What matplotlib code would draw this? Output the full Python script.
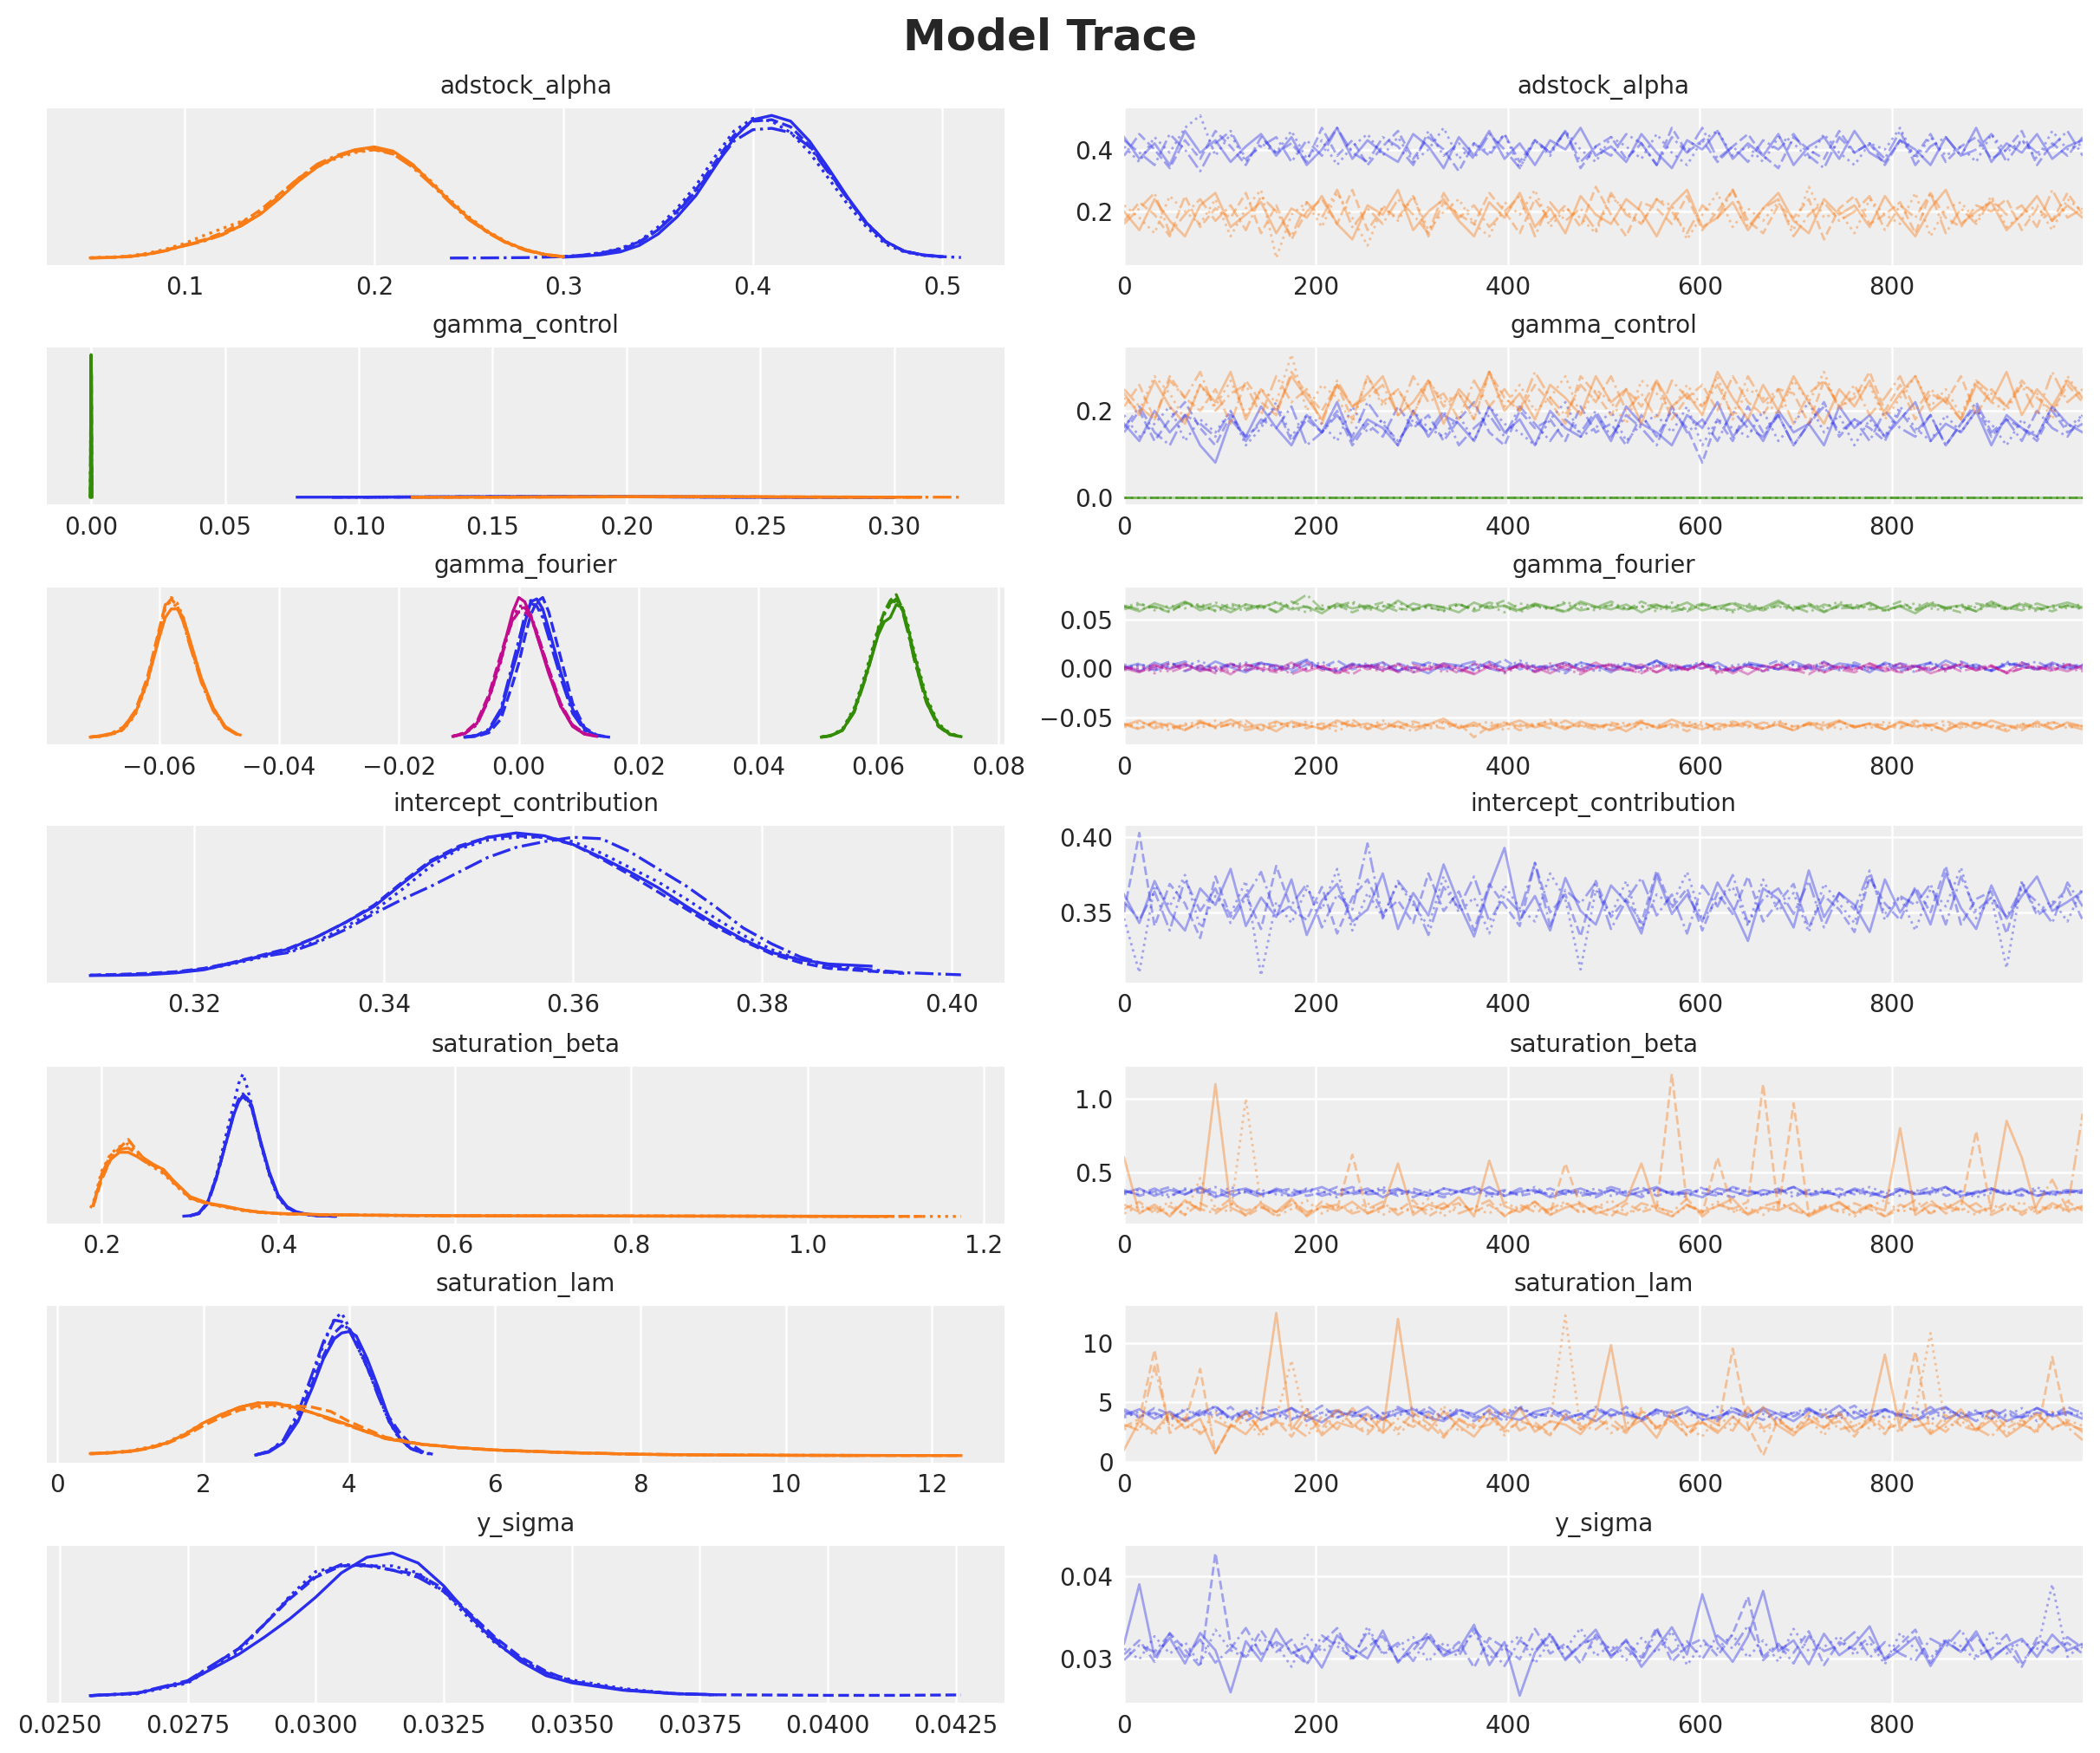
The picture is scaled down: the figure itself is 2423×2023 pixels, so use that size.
import numpy as np
import matplotlib.pyplot as plt

N = None
BLUE, ORANGE, GREEN, PINK = '#2a2eec', '#fa7c17', '#328c06', '#c10c90'
STYLES = ['-', '--', ':', '-.']
TEXT = '#262626'

# ---------------- posterior densities (x grid, one height list per chain) ----------------
adstock_x_orange = [0.05, 0.06, 0.07, 0.08, 0.09, 0.10, 0.11, 0.12, 0.13, 0.14,
                    0.15, 0.16, 0.17, 0.18, 0.19, 0.20, 0.21, 0.22, 0.23, 0.24,
                    0.25, 0.26, 0.27, 0.28, 0.29, 0.30]
adstock_kde_orange = [
    [0.3, 0.6, 1.2, 2.8, 5.5, 9, 12.5, 17, 23, 31, 42, 54, 64, 71, 76, 78, 75, 66, 53, 40, 28, 18.5, 11, 6, 2.8, 1.2],
    [0.3, 0.6, 1.3, 3, 5.8, 9.5, 13, 18, 25, 34, 45, 56, 65, 71, 75, 76, 73, 65, 53, 40, 28, 18, 11, 6, 2.6, 1.0],
    [0.4, 0.8, 1.6, 3.5, 6.5, 10.5, 16, 21, 26, 32, 43, 55, 64, 70, 74, 76, 74, 66, 54, 41, 29, 19, 11.5, 6, 2.8, 1.2],
    [0.2, 0.5, 1.1, 2.6, 5.3, 8.8, 12, 16.5, 23, 32, 44, 56, 66, 72, 76, 77, 73, 64, 52, 39, 27, 18, 10.5, 5.5, 2.5, 1.1],
]
adstock_x_blue = [0.24, 0.26, 0.28, 0.30, 0.31, 0.32, 0.33, 0.34, 0.35, 0.36,
                  0.37, 0.38, 0.39, 0.40, 0.41, 0.42, 0.43, 0.44, 0.45, 0.46,
                  0.47, 0.48, 0.49, 0.50, 0.51]
adstock_kde_blue = [
    [N, N, N, 0.8, 1.5, 2.5, 4.5, 9, 17, 29, 44, 64, 84, 97, 100, 96, 82, 63, 43, 25, 12, 5, 2.4, 1.2, N],
    [N, N, N, 1.0, 2, 3.5, 6, 11, 20, 33, 48, 67, 86, 96, 97, 92, 79, 61, 42, 24, 11.5, 5, 2.3, 1.0, N],
    [N, N, N, 1.2, 2.2, 4, 7, 12, 22, 35, 51, 71, 89, 98, 96, 88, 74, 56, 38, 22, 10, 4.5, 2, 0.9, N],
    [0.2, 0.3, 0.5, 1.2, 2.2, 3.8, 6.5, 11.5, 20, 32, 47, 65, 82, 90, 91, 88, 78, 60, 42, 25, 12, 5, 2.2, 1.2, 0.6],
]

control_x_blue = [0.077, 0.09, 0.10, 0.12, 0.15, 0.18, 0.21, 0.24, 0.27, 0.30]
control_kde_blue = [
    [0.01, 0.03, 0.05, 0.15, 0.3, 0.35, 0.25, 0.1, 0.03, 0.01],
    [N, 0.02, 0.04, 0.14, 0.3, 0.36, 0.24, 0.1, 0.03, 0.01],
    [N, N, 0.05, 0.15, 0.31, 0.34, 0.25, 0.11, 0.03, N],
    [N, 0.02, 0.05, 0.14, 0.29, 0.35, 0.26, 0.1, 0.04, 0.01],
]
control_x_orange = [0.12, 0.15, 0.18, 0.21, 0.24, 0.27, 0.30, 0.31, 0.325]
control_kde_orange = [
    [0.01, 0.06, 0.2, 0.32, 0.28, 0.13, 0.04, 0.02, N],
    [0.01, 0.05, 0.19, 0.31, 0.29, 0.14, 0.05, 0.02, N],
    [N, 0.06, 0.2, 0.33, 0.27, 0.12, 0.04, 0.02, N],
    [0.01, 0.06, 0.21, 0.31, 0.28, 0.13, 0.05, 0.03, 0.01],
]
control_x_green = [-0.0003, -0.0002, -0.0001, 0.0, 0.0001, 0.0002, 0.0003]
control_kde_green = [
    [0, 25, 85, 100, 85, 25, 0],
    [0, 24, 83, 98, 84, 26, 0],
    [0, 26, 86, 99, 83, 24, 0],
    [0, 23, 82, 97, 86, 25, 0],
]

fourier_x_blue = [-0.009, -0.007, -0.005, -0.003, -0.001, 0.000, 0.001, 0.002,
                  0.003, 0.004, 0.005, 0.007, 0.009, 0.011, 0.013, 0.015]
fourier_kde_blue = [
    [0.5, 1.5, 5, 18, 48, 62, 80, 95, 97, 90, 76, 46, 20, 6, 1.5, 0.5],
    [0.4, 1, 3.5, 13, 38, 52, 70, 86, 95, 98, 88, 56, 24, 7, 2, 0.5],
    [0.5, 1.6, 5.5, 19, 50, 66, 84, 96, 95, 86, 72, 43, 18, 5.5, 1.4, N],
    [0.6, 1.8, 6, 20, 52, 68, 85, 94, 92, 84, 70, 42, 17, 5, 1.2, N],
]
fourier_x_orange = [-0.0715, -0.070, -0.068, -0.066, -0.064, -0.062, -0.060, -0.059, -0.058,
                    -0.057, -0.056, -0.055, -0.053, -0.051, -0.049, -0.047, -0.0465]
fourier_kde_orange = [
    [0.5, 1, 2.5, 6, 17, 39, 70, 84, 90, 90, 84, 70, 42, 21, 8, 2.5, 2],
    [0.5, 1.2, 3, 7, 19, 42, 76, 92, 97, 92, 82, 67, 40, 20, 7, 2.5, N],
    [0.4, 0.8, 2.2, 5.5, 16, 38, 72, 90, 98, 94, 84, 68, 41, 21, 7.5, 2.4, 2],
    [0.6, 1.3, 3, 7.5, 18, 40, 74, 93, 95, 91, 81, 66, 39, 19, 7, 2.2, N],
]
fourier_x_green = [0.0505, 0.052, 0.054, 0.056, 0.058, 0.059, 0.060, 0.061, 0.062,
                   0.063, 0.064, 0.065, 0.066, 0.068, 0.070, 0.072, 0.0738]
fourier_kde_green = [
    [0.5, 1.5, 5, 19, 44, 58, 72, 81, 84, 93, 91, 76, 58, 27, 9, 2.5, 0.8],
    [0.5, 1.5, 5.5, 20, 45, 60, 76, 88, 96, 100, 90, 74, 55, 25, 8, 2, N],
    [0.6, 1.6, 6, 21, 47, 62, 77, 87, 93, 96, 92, 78, 60, 29, 10, 3, 1],
    [0.4, 1.3, 5, 18, 43, 58, 74, 86, 94, 97, 89, 73, 55, 25, 8.5, 2.2, 0.7],
]
fourier_x_pink = [-0.011, -0.009, -0.007, -0.005, -0.003, -0.002, -0.001, 0.000,
                  0.001, 0.002, 0.003, 0.005, 0.007, 0.009, 0.011, 0.013]
fourier_kde_pink = [
    [1, 3, 10, 28, 55, 72, 88, 98, 95, 85, 72, 45, 22, 8, 2.5, 1],
    [1, 3.5, 11, 30, 58, 72, 82, 88, 88, 84, 74, 48, 24, 9, 3, 1],
    [1.2, 3.5, 10, 27, 53, 70, 84, 92, 92, 86, 74, 47, 23, 8.5, 2.5, N],
    [0.8, 3, 9, 27, 54, 70, 83, 90, 91, 85, 72, 46, 22, 8, 2.5, N],
]

intercept_x = [0.309, 0.312, 0.315, 0.318, 0.321, 0.324, 0.327, 0.330, 0.333, 0.336,
               0.339, 0.342, 0.345, 0.348, 0.351, 0.354, 0.357, 0.360, 0.363, 0.366,
               0.369, 0.372, 0.375, 0.378, 0.381, 0.384, 0.387, 0.3915, 0.395, 0.401]
intercept_kde = [
    [0, 0.2, 0.6, 1.8, 4, 8.5, 13.5, 18.5, 27, 37, 48, 64, 79, 89, 96, 99, 97, 91, 82, 72,
     61, 48, 36, 25, 16, 11, 8, 6.5, N, N],
    [0.3, 0.8, 1.5, 2.6, 5, 9, 14, 19, 27, 37, 49, 65, 80, 90, 96, 97, 96, 91, 81, 70,
     58, 46, 34, 24, 15, 9, 5, 3, 1.5, N],
    [0.2, 0.5, 1.2, 2.2, 4.2, 8, 12.5, 17, 24, 34, 45, 60, 76, 88, 94, 96, 96, 93, 85, 75,
     65, 53, 40, 28, 18, 11, 6, 3, 1.5, N],
    [N, 0.4, 1, 2.2, 4.5, 9, 13, 16, 23, 32, 43, 53, 62, 72, 82, 89, 93, 96, 95, 86,
     74, 62, 48, 33, 22, 13, 7, 4, 2, 0.5],
]

beta_x_blue = [0.293, 0.30, 0.31, 0.32, 0.33, 0.34, 0.35, 0.355, 0.36, 0.365,
               0.37, 0.38, 0.39, 0.40, 0.41, 0.42, 0.43, 0.44, 0.45, 0.465]
beta_kde_blue = [
    [0.3, 0.6, 2.5, 10, 28, 50, 72, 80, 85, 83, 78, 53, 31, 15, 7, 3.5, 2, 1, 0.5, 0.2],
    [N, 0.5, 2, 9, 27, 51, 74, 82, 86, 82, 76, 52, 30, 14, 6.5, 3, 1.8, 0.9, 0.4, 0.2],
    [N, 0.6, 2.3, 10, 29, 55, 80, 93, 100, 90, 78, 51, 29, 13, 6, 3, 1.5, 0.8, 0.4, N],
    [N, 0.5, 2.2, 9.5, 27, 50, 73, 81, 84, 81, 76, 52, 30, 14, 6.5, 3, 1.6, 0.8, 0.4, N],
]
beta_x_orange = [0.187, 0.19, 0.20, 0.21, 0.22, 0.23, 0.24, 0.25, 0.26, 0.27,
                 0.28, 0.30, 0.32, 0.34, 0.36, 0.38, 0.40, 0.45, 0.50, 0.60,
                 0.70, 0.80, 0.90, 1.00, 1.09, 1.13, 1.174]
beta_kde_orange = [
    [N, 8, 28, 40, 45, 45, 42, 38, 36, 33, 26, 14, 9.5, 7.3, 4.7, 3, 2.2, 1.3, 1, 0.6,
     0.45, 0.35, 0.3, 0.2, 0.15, N, N],
    [N, 7, 26, 40, 48, 54, 46, 39, 35, 31, 25, 13, 9, 6.8, 4.5, 3, 2.1, 1.3, 0.9, 0.6,
     0.45, 0.35, 0.3, 0.2, 0.15, 0.1, N],
    [6, 9, 32, 44, 49, 51, 45, 38, 34, 30, 24, 12.5, 9, 6.5, 4.2, 2.8, 2, 1.2, 0.9, 0.6,
     0.45, 0.35, 0.3, 0.2, 0.15, 0.1, 0.1],
    [N, 7, 30, 43, 47, 48, 44, 40, 36, 32, 25, 13, 9, 7, 4.5, 3, 2.1, 1.3, 1, 0.6,
     0.45, 0.35, 0.3, 0.2, 0.15, N, N],
]

lam_x_blue = [2.72, 2.9, 3.1, 3.3, 3.5, 3.65, 3.8, 3.9, 4.0, 4.1,
              4.25, 4.4, 4.55, 4.7, 4.85, 5.0, 5.15]
lam_kde_blue = [
    [0.5, 2.5, 9, 24, 48, 68, 82, 86, 87, 84, 68, 48, 26, 12, 5, 2.5, N],
    [0.6, 3, 10, 26, 51, 70, 86, 91, 89, 82, 63, 44, 27, 16, 8, 3, 1],
    [0.6, 3, 10, 27, 55, 78, 96, 100, 90, 78, 62, 43, 24, 11, 5, 2, 1],
    [0.5, 3, 11, 30, 58, 80, 95, 94, 88, 78, 62, 42, 24, 12, 5, 2, N],
]
lam_x_orange = [0.45, 0.75, 1.0, 1.25, 1.5, 1.75, 2.0, 2.25, 2.5, 2.75,
                3.0, 3.25, 3.5, 3.75, 4.0, 4.5, 5.0, 5.5, 6.0, 7.0,
                8.0, 9.0, 10.0, 11.0, 12.4]
lam_kde_orange = [
    [1.5, 2.2, 3.2, 5.5, 9, 15, 23, 29, 34, 37, 36.5, 34, 30, 26, 21.5, 12, 8, 5.7, 4, 2.2,
     1, 0.5, 0.3, 0.2, 0.1],
    [1.3, 2, 3, 5, 8.5, 14, 21, 27, 32, 35, 36, 35, 34, 31, 24, 13, 8, 5.5, 4, 2.1,
     1, 0.5, 0.3, 0.2, 0.1],
    [1.6, 2.4, 3.5, 6, 9.5, 15.5, 23, 28, 32, 34, 35, 33, 30, 26, 21, 12.5, 8, 5.7, 4, 2.2,
     1, 0.5, 0.3, 0.2, N],
    [1.4, 2.1, 3, 5.3, 9, 15, 22.5, 29, 34, 37, 37, 34, 30, 25, 21, 12, 8, 5.6, 4, 2.2,
     1, 0.5, 0.3, 0.2, N],
]

sigma_x = [0.0256, 0.0265, 0.0275, 0.0285, 0.0290, 0.0295, 0.0300, 0.0305, 0.0310, 0.0315,
           0.0320, 0.0325, 0.0330, 0.0335, 0.0340, 0.0345, 0.0350, 0.0360, 0.0370, 0.0378,
           0.0390, 0.0400, 0.0413, 0.0426]
sigma_kde = [
    [0, 1.6, 9.6, 29, 41, 54, 69, 86, 97, 100, 93, 77, 56, 38, 24, 14, 9, 3.8, 1.3, 0.6, N, N, N, N],
    [0, 1.6, 10, 33, 50, 68, 83, 91, 92, 88, 85, 75, 58, 41, 27, 17, 10, 4, 1.5, 0.6, 0.4, 0.2, 0.2, 0.5],
    [0, 1.2, 8.8, 31, 50, 70, 87, 91, 91, 91, 86, 73, 54, 37, 25, 16, 11, 5, 1.5, 0.6, N, N, N, N],
    [0, 1.8, 10.5, 33, 50, 69, 84, 92, 91, 88, 83, 73, 57, 40, 26, 16, 10, 4.2, 1.4, 0.5, N, N, N, N],
]

# ---------------- traces (thinned draws, one list per chain) ----------------
adstock_trace_blue = [  # x0.01
    [44, 37, 42, 35, 46, 39, 43, 36, 41, 45, 38, 44, 35, 40, 47, 37,
     43, 39, 36, 45, 41, 34, 44, 38, 46, 37, 42, 35, 43, 40, 47, 38,
     41, 36, 45, 39, 34, 43, 40, 46, 37, 42, 38, 45, 35, 41, 44, 37,
     46, 39, 36, 43, 40, 35, 44, 38, 47, 36, 42, 39, 45, 37, 41, 43],
    [38, 45, 40, 34, 43, 37, 46, 41, 35, 44, 39, 42, 36, 47, 38, 43,
     35, 41, 46, 37, 44, 40, 33, 42, 38, 45, 36, 43, 39, 46, 34, 41,
     44, 37, 42, 35, 47, 39, 43, 36, 41, 45, 38, 34, 44, 40, 37, 46,
     39, 42, 35, 43, 38, 45, 36, 41, 44, 37, 40, 46, 35, 42, 38, 44],
    [41, 36, 44, 39, 47, 51, 38, 45, 36, 42, 39, 46, 37, 43, 35, 41,
     45, 38, 44, 36, 40, 47, 37, 42, 39, 45, 34, 43, 38, 46, 40, 36,
     44, 41, 37, 45, 39, 35, 43, 46, 38, 41, 36, 44, 42, 37, 45, 39,
     35, 42, 40, 47, 37, 44, 38, 41, 36, 45, 39, 43, 37, 46, 40, 42],
    [43, 39, 35, 45, 40, 33, 42, 46, 37, 41, 44, 36, 43, 38, 47, 39,
     36, 44, 41, 35, 46, 38, 42, 37, 45, 40, 34, 43, 39, 46, 36, 41,
     38, 45, 42, 35, 44, 39, 47, 37, 41, 36, 43, 40, 45, 38, 34, 44,
     39, 42, 37, 46, 35, 41, 44, 38, 40, 45, 36, 43, 39, 41, 46, 38],
]
adstock_trace_orange = [  # x0.01
    [20, 14, 24, 17, 12, 22, 26, 15, 19, 23, 13, 21, 18, 25, 16, 11,
     22, 19, 27, 14, 20, 24, 17, 12, 23, 18, 26, 15, 21, 13, 25, 19,
     16, 24, 20, 12, 22, 27, 15, 18, 23, 14, 21, 26, 17, 13, 24, 19,
     22, 15, 25, 18, 12, 21, 27, 16, 20, 23, 14, 19, 25, 17, 22, 18],
    [17, 23, 19, 12, 25, 15, 21, 18, 26, 13, 22, 11, 20, 24, 16, 27,
     14, 21, 18, 25, 12, 23, 19, 16, 26, 20, 13, 24, 17, 22, 15, 28,
     19, 12, 23, 21, 16, 25, 14, 20, 27, 17, 13, 22, 18, 24, 11, 21,
     25, 16, 19, 23, 13, 26, 18, 15, 22, 20, 24, 14, 21, 17, 26, 19],
    [22, 18, 13, 25, 20, 16, 24, 12, 21, 27, 5, 19, 23, 15, 26, 18,
     9, 22, 17, 25, 14, 20, 24, 16, 12, 23, 19, 27, 15, 21, 18, 13,
     25, 20, 16, 24, 22, 11, 19, 26, 15, 21, 17, 23, 14, 28, 18, 20,
     13, 24, 19, 16, 26, 12, 21, 23, 17, 25, 15, 19, 22, 14, 24, 20],
    [16, 21, 26, 13, 19, 24, 17, 22, 14, 25, 20, 12, 23, 18, 27, 15,
     21, 16, 24, 19, 13, 26, 18, 22, 15, 20, 25, 12, 23, 17, 21, 14,
     26, 19, 16, 24, 20, 13, 22, 18, 27, 15, 21, 24, 12, 19, 23, 17,
     20, 25, 14, 22, 18, 26, 13, 21, 16, 24, 19, 22, 15, 27, 18, 21],
]

control_trace_blue = [  # x0.01
    [17, 13, 20, 15, 19, 12, 8, 18, 14, 21, 16, 12, 19, 15, 22, 13,
     18, 16, 12, 20, 14, 19, 17, 13, 21, 15, 18, 12, 20, 16, 14, 19,
     13, 21, 17, 15, 12, 19, 16, 22, 14, 18, 13, 20, 15, 17, 12, 21,
     16, 19, 14, 18, 22, 13, 17, 15, 20, 12, 19, 16, 14, 21, 17, 15],
    [15, 20, 13, 18, 22, 16, 12, 19, 14, 17, 21, 13, 18, 15, 20, 12,
     17, 14, 21, 16, 19, 13, 18, 22, 15, 12, 20, 16, 18, 13, 21, 15,
     17, 12, 19, 14, 20, 16, 8, 18, 13, 21, 15, 19, 12, 17, 22, 14,
     18, 16, 13, 20, 15, 19, 12, 17, 21, 14, 18, 16, 13, 20, 15, 17],
    [19, 14, 17, 21, 13, 18, 15, 20, 12, 16, 22, 14, 19, 17, 13, 21,
     15, 18, 12, 20, 16, 14, 19, 13, 21, 17, 15, 12, 18, 22, 14, 16,
     20, 13, 17, 19, 15, 21, 12, 18, 16, 14, 20, 13, 17, 22, 15, 19,
     12, 18, 14, 21, 16, 13, 19, 15, 20, 17, 12, 18, 14, 21, 16, 19],
    [16, 21, 15, 12, 19, 17, 14, 20, 13, 18, 16, 21, 12, 15, 19, 14,
     22, 17, 13, 18, 15, 20, 12, 16, 19, 14, 21, 17, 13, 18, 15, 20,
     14, 19, 16, 12, 21, 15, 18, 13, 20, 16, 14, 19, 12, 17, 21, 15,
     18, 13, 20, 16, 14, 19, 12, 17, 22, 15, 18, 13, 20, 16, 14, 19],
]
control_trace_orange = [  # x0.01
    [24, 19, 27, 21, 17, 26, 22, 29, 18, 25, 20, 28, 23, 18, 26, 21,
     24, 28, 19, 22, 27, 17, 25, 21, 29, 20, 24, 18, 26, 23, 19, 28,
     22, 25, 17, 27, 21, 24, 19, 29, 23, 18, 26, 20, 28, 22, 17, 25,
     21, 27, 19, 24, 28, 20, 23, 18, 26, 22, 29, 19, 25, 21, 27, 23],
    [21, 26, 18, 28, 23, 20, 25, 17, 27, 22, 19, 29, 24, 20, 26, 18,
     28, 22, 25, 19, 27, 21, 24, 18, 29, 23, 20, 26, 22, 17, 28, 24,
     19, 25, 21, 27, 18, 23, 26, 20, 28, 22, 19, 25, 24, 17, 27, 21,
     23, 29, 20, 26, 18, 24, 22, 28, 19, 25, 21, 27, 23, 20, 26, 22],
    [23, 20, 28, 24, 18, 26, 21, 27, 19, 25, 22, 33, 20, 26, 23, 17,
     28, 21, 25, 19, 27, 22, 24, 18, 29, 21, 26, 20, 23, 28, 19, 25,
     22, 17, 27, 24, 20, 26, 21, 28, 18, 25, 23, 19, 27, 22, 29, 20,
     24, 26, 18, 23, 28, 21, 25, 19, 27, 22, 20, 26, 24, 18, 28, 23],
    [25, 21, 18, 27, 23, 29, 20, 24, 26, 19, 28, 22, 25, 17, 27, 21,
     23, 26, 19, 28, 22, 24, 18, 27, 21, 25, 20, 29, 23, 19, 26, 22,
     28, 20, 24, 18, 27, 23, 21, 26, 19, 28, 22, 25, 17, 24, 27, 21,
     26, 19, 23, 28, 20, 25, 22, 18, 27, 24, 21, 26, 19, 29, 22, 25],
]
control_trace_green = [[0, 0, 0, 0, 0], [0, 0, 0, 0, 0], [0, 0, 0, 0, 0], [0, 0, 0, 0, 0]]

fourier_trace_blue = [  # x0.001
    [2, -3, 6, 0, 4, -2, 7, 1, -4, 5, 3, -1, 8, 0, -3, 4,
     2, 6, -2, 1, -5, 5, 3, -1, 7, 0, 4, -3, 2, 6, -1, 3,
     -4, 5, 1, 8, -2, 3, 0, 6, -3, 4, 2, -1, 7, 1, -2, 5,
     3, -4, 6, 0, 2, -2, 8, 1, 4, -3, 5, 2, -1, 6, 0, 3],
    [-1, 4, 1, 7, -3, 3, 0, 5, -2, 6, 2, -4, 4, 1, 8, -1,
     3, -2, 5, 0, 6, 2, -3, 4, 1, 9, -1, 3, 0, -5, 6, 2,
     4, -2, 1, 7, 3, -1, 5, 0, -3, 4, 2, 8, -2, 3, 1, -1,
     6, 0, 4, -3, 2, 5, -1, 7, 1, -2, 3, 6, 0, 4, -1, 2],
    [4, 0, -2, 5, 2, 8, -1, 3, 6, -3, 1, 4, 0, 7, -2, 3,
     5, -1, 2, -4, 6, 1, 3, -2, 4, 0, 8, 2, -1, 5, 3, -3,
     1, 6, -2, 4, 0, 2, 7, -1, 3, 5, -3, 1, 4, -2, 6, 0,
     2, -1, 5, 3, -4, 6, 1, 0, 4, -2, 7, 2, -1, 3, 5, 0],
    [1, 5, -2, 3, 7, 0, -3, 4, 2, 6, -1, 3, 9, 0, -2, 5,
     1, 4, -3, 6, 2, -1, 3, 7, 0, -4, 5, 1, 3, -2, 6, 2,
     -1, 4, 0, 8, -3, 2, 5, 1, -2, 6, 3, -1, 4, 0, 7, -2,
     3, 1, -3, 5, 2, 6, -1, 4, 0, -2, 5, 3, 7, -1, 2, 4],
]
fourier_trace_orange = [  # x0.001
    [-58, -53, -61, -56, -63, -55, -59, -52, -60, -57, -64, -54, -58, -61, -53, -59,
     -56, -62, -54, -60, -57, -51, -61, -55, -63, -58, -53, -60, -56, -62, -54, -59,
     -57, -64, -55, -60, -52, -58, -62, -56, -59, -54, -61, -57, -63, -55, -58, -53,
     -60, -56, -62, -54, -59, -57, -64, -55, -61, -53, -58, -60, -56, -62, -55, -59],
    [-56, -61, -54, -59, -62, -55, -60, -57, -53, -63, -58, -55, -61, -56, -59, -52,
     -62, -57, -60, -54, -58, -61, -56, -70, -59, -55, -63, -57, -54, -60, -58, -62,
     -55, -59, -53, -61, -57, -64, -56, -60, -54, -58, -62, -55, -59, -57, -63, -54,
     -60, -56, -58, -61, -53, -59, -62, -57, -55, -60, -58, -63, -54, -61, -57, -59],
    [-60, -55, -58, -63, -56, -61, -53, -59, -57, -62, -55, -60, -54, -58, -64, -56,
     -59, -53, -61, -57, -62, -55, -60, -58, -54, -63, -57, -59, -52, -61, -56, -60,
     -58, -55, -62, -57, -60, -54, -59, -63, -56, -58, -61, -53, -60, -57, -55, -62,
     -58, -61, -54, -59, -56, -63, -57, -60, -55, -58, -62, -56, -59, -54, -61, -57],
    [-57, -62, -55, -60, -58, -53, -61, -56, -63, -59, -54, -60, -57, -62, -55, -58,
     -61, -56, -59, -64, -57, -54, -60, -58, -62, -55, -59, -56, -61, -53, -60, -57,
     -63, -58, -55, -61, -56, -59, -54, -62, -57, -60, -55, -58, -63, -56, -61, -54,
     -59, -57, -62, -55, -60, -58, -53, -61, -56, -59, -64, -57, -60, -55, -58, -62],
]
fourier_trace_green = [  # x0.001
    [63, 58, 66, 61, 68, 59, 64, 57, 65, 62, 67, 60, 63, 56, 66, 61,
     64, 58, 69, 60, 65, 62, 57, 67, 61, 64, 59, 66, 62, 58, 68, 63,
     60, 65, 57, 64, 61, 67, 59, 63, 66, 58, 62, 69, 60, 64, 57, 65,
     61, 67, 59, 63, 56, 66, 62, 64, 58, 68, 61, 65, 60, 63, 67, 62],
    [60, 65, 62, 57, 67, 63, 59, 66, 61, 64, 58, 68, 62, 60, 65, 57,
     63, 67, 61, 59, 64, 62, 66, 58, 63, 69, 60, 65, 61, 57, 66, 62,
     64, 59, 68, 61, 63, 58, 65, 60, 67, 62, 59, 64, 61, 66, 58, 63,
     65, 60, 62, 68, 59, 64, 61, 57, 66, 63, 60, 67, 62, 58, 64, 61],
    [62, 67, 59, 64, 61, 66, 58, 63, 65, 60, 68, 62, 57, 64, 61, 66,
     59, 63, 67, 60, 62, 58, 65, 61, 64, 57, 66, 63, 60, 68, 62, 59,
     65, 61, 63, 58, 67, 60, 64, 62, 57, 66, 61, 63, 59, 65, 62, 68,
     60, 64, 58, 63, 66, 61, 59, 65, 62, 67, 60, 63, 58, 64, 61, 66],
    [64, 60, 63, 58, 66, 62, 67, 61, 59, 64, 57, 65, 75, 60, 63, 68,
     61, 64, 58, 66, 62, 59, 65, 60, 67, 63, 57, 64, 61, 66, 59, 62,
     68, 60, 63, 65, 58, 61, 66, 62, 59, 64, 60, 67, 63, 57, 65, 61,
     62, 66, 59, 64, 60, 68, 61, 63, 58, 65, 62, 59, 66, 61, 64, 60],
]
fourier_trace_pink = [  # x0.001
    [0, -4, 3, -1, 5, -3, 1, -6, 4, 0, -2, 6, -3, 2, -5, 1,
     3, -2, 4, -4, 0, 5, -1, -6, 2, -3, 4, 1, -5, 3, -1, 6,
     -2, 0, 4, -4, 2, -1, 5, -3, 1, -6, 3, 0, -2, 4, -4, 2,
     -1, 5, -3, 1, 3, -5, 0, 4, -2, 2, -4, 6, -1, 1, -3, 3],
    [2, -3, 0, 5, -2, 3, -5, 1, 4, -1, -4, 2, 6, -2, 0, -6,
     3, 1, -3, 4, -1, 2, -5, 5, 0, -2, 3, -4, 1, 6, -3, 0,
     4, -1, -5, 2, 3, -2, 5, -4, 0, 2, -3, 4, -1, -6, 3, 1,
     -2, 5, 0, -4, 2, -1, 4, -3, 1, 3, -5, 0, 2, -2, 4, -1],
    [-2, 3, -5, 1, 4, -1, 2, -4, 0, 6, -3, 1, -1, 4, -6, 2,
     0, -3, 5, -2, 3, -4, 1, -1, 6, -5, 2, 0, -2, 4, -3, 1,
     5, -1, -4, 3, 0, -2, 4, -6, 1, 2, -3, 5, -1, 0, -4, 3,
     1, -2, 4, -5, 2, 0, -3, 6, -1, 1, -4, 3, -2, 5, 0, -3],
    [1, -1, 4, -4, 2, 0, -3, 5, -2, 1, 3, -6, 0, 2, -3, 4,
     -1, 6, -4, 1, -2, 3, 0, -5, 4, -1, 2, -3, 5, 0, -6, 2,
     3, -2, 1, -4, 5, -1, 0, 3, -5, 2, -2, 4, -3, 1, 6, -1,
     -4, 2, 0, 5, -3, 1, -1, 4, -2, 3, -5, 0, 2, -3, 4, 1],
]

intercept_trace = [  # x0.001
    [362, 343, 371, 350, 338, 366, 355, 379, 341, 360, 347, 372, 335, 358, 369, 344,
     352, 376, 339, 363, 348, 382, 356, 334, 367, 393, 345, 361, 338, 373, 351, 342,
     368, 357, 336, 375, 349, 362, 344, 370, 353, 331, 366, 359, 340, 378, 347, 363,
     355, 337, 372, 350, 365, 342, 376, 353, 339, 368, 346, 361, 374, 351, 357, 364],
    [350, 403, 341, 369, 356, 333, 374, 347, 362, 339, 381, 352, 345, 367, 336, 360,
     372, 349, 358, 343, 376, 351, 364, 338, 369, 355, 341, 383, 350, 362, 334, 371,
     347, 359, 343, 378, 353, 366, 338, 363, 349, 374, 344, 357, 369, 340, 361, 352,
     337, 373, 356, 345, 367, 350, 381, 342, 359, 364, 336, 370, 348, 355, 366, 345],
    [346, 310, 368, 354, 375, 340, 361, 349, 371, 308, 357, 343, 366, 352, 379, 338,
     363, 347, 370, 355, 341, 374, 350, 360, 336, 368, 353, 344, 376, 359, 312, 365,
     348, 371, 339, 362, 355, 377, 345, 358, 367, 341, 372, 351, 363, 337, 369, 356,
     343, 375, 349, 361, 338, 366, 354, 380, 346, 360, 313, 371, 350, 358, 344, 367],
    [357, 345, 364, 338, 372, 351, 366, 343, 360, 377, 348, 355, 369, 340, 362, 352,
     396, 346, 371, 358, 335, 367, 353, 374, 344, 361, 350, 383, 341, 365, 356, 370,
     339, 358, 373, 348, 362, 336, 368, 354, 375, 343, 359, 366, 349, 371, 340, 363,
     352, 378, 345, 361, 355, 369, 342, 374, 351, 360, 347, 366, 357, 343, 370, 354],
]

beta_trace_blue = [  # x0.01
    [36, 39, 34, 38, 35, 40, 33, 37, 39, 35, 38, 34, 37, 40, 35, 36,
     39, 33, 38, 36, 34, 39, 37, 35, 40, 34, 37, 38, 33, 36, 39, 35,
     38, 34, 37, 40, 35, 36, 33, 39, 37, 34, 38, 36, 40, 35, 37, 34,
     39, 36, 33, 38, 35, 37, 40, 34, 36, 39, 35, 38, 34, 37, 36, 38],
    [38, 34, 37, 40, 35, 39, 36, 33, 38, 35, 37, 39, 34, 36, 40, 35,
     37, 38, 34, 39, 36, 33, 37, 40, 35, 38, 34, 36, 39, 35, 37, 33,
     38, 36, 40, 34, 37, 35, 39, 36, 33, 38, 35, 37, 40, 34, 36, 39,
     35, 37, 33, 38, 36, 40, 34, 37, 35, 39, 36, 34, 38, 35, 37, 36],
    [35, 38, 36, 33, 39, 37, 34, 40, 36, 38, 35, 34, 39, 37, 33, 38,
     36, 40, 35, 37, 34, 39, 36, 38, 33, 37, 35, 40, 34, 38, 36, 39,
     34, 37, 35, 38, 36, 33, 40, 35, 39, 37, 34, 38, 36, 35, 39, 33,
     37, 40, 36, 34, 38, 35, 39, 37, 33, 36, 38, 35, 40, 34, 37, 36],
    [37, 35, 39, 34, 38, 36, 40, 35, 37, 33, 39, 36, 38, 34, 37, 40,
     35, 36, 39, 33, 38, 35, 37, 40, 36, 34, 39, 37, 35, 38, 34, 36,
     40, 37, 33, 39, 35, 38, 36, 34, 40, 37, 35, 39, 33, 38, 36, 35,
     38, 34, 37, 39, 35, 36, 40, 33, 37, 38, 35, 39, 34, 36, 38, 37],
]
beta_trace_orange = [  # x0.01
    [60, 22, 28, 20, 31, 24, 110, 26, 21, 29, 23, 32, 20, 27, 24, 30,
     22, 26, 56, 21, 28, 25, 33, 20, 58, 27, 23, 30, 21, 26, 29, 22,
     25, 31, 56, 24, 20, 28, 23, 27, 32, 21, 26, 24, 29, 20, 25, 30,
     22, 27, 24, 80, 21, 28, 25, 31, 23, 26, 85, 60, 22, 29, 24, 27],
    [25, 30, 22, 27, 21, 29, 24, 32, 20, 26, 23, 28, 21, 30, 25, 62,
     22, 27, 24, 31, 20, 26, 29, 23, 28, 21, 25, 30, 22, 56, 27, 24,
     20, 29, 23, 26, 117, 28, 22, 60, 25, 30, 110, 24, 97, 21, 27, 23,
     29, 25, 20, 28, 24, 31, 22, 26, 78, 23, 29, 21, 27, 25, 30, 24],
    [22, 27, 24, 30, 21, 46, 26, 23, 100, 28, 20, 25, 31, 22, 27, 24,
     29, 21, 26, 23, 32, 20, 28, 25, 22, 30, 24, 27, 21, 29, 23, 26,
     31, 22, 25, 28, 20, 27, 24, 30, 23, 26, 21, 29, 25, 22, 28, 24,
     20, 27, 31, 23, 26, 22, 29, 25, 21, 28, 24, 30, 22, 27, 23, 26],
    [28, 23, 26, 21, 30, 25, 22, 29, 24, 27, 20, 31, 23, 26, 28, 22,
     25, 30, 21, 27, 24, 29, 22, 26, 31, 20, 28, 23, 25, 30, 22, 27,
     24, 21, 29, 26, 23, 32, 20, 28, 25, 22, 27, 30, 24, 21, 26, 29,
     23, 28, 20, 25, 31, 22, 27, 24, 29, 21, 26, 23, 28, 45, 25, 90],
]

lam_trace_blue = [  # x0.1
    [39, 44, 36, 42, 34, 41, 46, 37, 43, 35, 40, 45, 38, 33, 42, 39,
     46, 36, 41, 44, 37, 34, 43, 40, 47, 38, 35, 42, 45, 37, 40, 34,
     44, 39, 36, 43, 41, 46, 35, 38, 42, 37, 45, 40, 34, 43, 39, 47,
     36, 41, 44, 38, 35, 42, 46, 37, 40, 43, 34, 39, 45, 38, 41, 36],
    [42, 37, 45, 40, 35, 43, 38, 46, 34, 41, 44, 36, 39, 47, 37, 42,
     35, 40, 44, 38, 46, 36, 41, 34, 43, 39, 45, 37, 42, 35, 40, 44,
     38, 46, 34, 41, 37, 43, 39, 36, 45, 40, 35, 42, 38, 44, 36, 41,
     47, 37, 43, 39, 34, 40, 45, 38, 42, 36, 44, 37, 41, 39, 46, 40],
    [37, 42, 40, 34, 45, 38, 43, 36, 41, 46, 39, 35, 44, 40, 37, 43,
     34, 41, 38, 46, 36, 42, 44, 39, 35, 41, 47, 37, 43, 40, 34, 45,
     38, 42, 36, 44, 39, 41, 35, 46, 37, 43, 40, 34, 42, 38, 45, 36,
     41, 44, 37, 39, 46, 35, 42, 40, 43, 36, 38, 45, 34, 41, 39, 44],
    [44, 38, 41, 36, 43, 39, 47, 35, 40, 42, 37, 45, 34, 41, 43, 38,
     40, 35, 46, 39, 42, 36, 44, 37, 41, 34, 45, 40, 38, 43, 36, 46,
     39, 41, 35, 44, 37, 42, 40, 34, 46, 38, 43, 36, 41, 45, 37, 39,
     42, 35, 44, 40, 38, 46, 36, 41, 34, 43, 39, 37, 45, 40, 42, 38],
]
lam_trace_orange = [  # x0.1
    [10, 34, 25, 41, 28, 36, 7, 31, 23, 38, 125, 27, 44, 22, 33, 29,
     40, 24, 120, 35, 26, 42, 30, 21, 37, 28, 45, 25, 34, 31, 23, 39,
     98, 27, 35, 20, 43, 29, 33, 24, 38, 26, 46, 30, 22, 36, 28, 41,
     25, 34, 90, 27, 39, 23, 32, 44, 26, 35, 21, 30, 40, 28, 33, 25],
    [29, 36, 94, 24, 33, 78, 7, 30, 42, 26, 35, 21, 39, 28, 45, 31,
     23, 37, 27, 41, 32, 20, 36, 29, 44, 25, 34, 30, 22, 40, 27, 35,
     31, 24, 43, 28, 38, 22, 33, 26, 95, 30, 5, 36, 25, 41, 29, 34,
     21, 38, 27, 32, 93, 24, 39, 30, 26, 44, 28, 35, 23, 88, 31, 27],
    [27, 33, 22, 39, 30, 25, 41, 28, 35, 21, 37, 85, 29, 24, 43, 31,
     26, 38, 23, 34, 29, 47, 25, 32, 40, 22, 36, 28, 33, 123, 27, 39,
     24, 31, 45, 26, 35, 29, 21, 38, 30, 42, 25, 33, 27, 36, 22, 40,
     31, 28, 37, 24, 43, 108, 29, 34, 26, 39, 23, 32, 41, 27, 35, 30],
    [31, 26, 80, 29, 37, 23, 34, 28, 42, 25, 33, 30, 21, 38, 27, 45,
     32, 24, 36, 29, 40, 22, 35, 28, 31, 44, 26, 33, 23, 39, 30, 27,
     37, 25, 41, 29, 34, 22, 38, 31, 26, 46, 28, 35, 24, 32, 40, 27,
     30, 36, 23, 43, 29, 33, 25, 38, 28, 21, 35, 31, 26, 42, 29, 18],
]

sigma_trace = [  # x0.0001
    [318, 390, 302, 325, 294, 331, 310, 259, 321, 297, 336, 306, 315, 289, 328, 312,
     300, 334, 295, 318, 326, 303, 311, 341, 292, 320, 255, 307, 329, 298, 316, 335,
     301, 323, 290, 313, 338, 305, 378, 319, 296, 327, 382, 309, 322, 293, 330, 304,
     317, 339, 298, 311, 326, 291, 320, 308, 333, 299, 315, 324, 302, 329, 310, 318],
    [305, 322, 296, 331, 311, 290, 428, 317, 302, 334, 308, 323, 293, 319, 337, 300,
     314, 327, 297, 310, 332, 304, 320, 289, 325, 313, 299, 336, 306, 318, 294, 329,
     309, 321, 301, 338, 296, 315, 324, 303, 330, 375, 298, 316, 307, 333, 292, 320,
     311, 326, 300, 317, 335, 295, 322, 308, 328, 302, 314, 290, 325, 312, 319, 306],
    [312, 299, 327, 306, 320, 293, 335, 310, 301, 324, 317, 290, 330, 308, 322, 297,
     339, 305, 315, 326, 296, 319, 309, 332, 300, 313, 328, 294, 321, 311, 337, 303,
     316, 298, 325, 307, 333, 292, 318, 312, 329, 301, 322, 296, 336, 309, 314, 327,
     304, 320, 293, 331, 311, 300, 324, 315, 298, 334, 306, 321, 310, 390, 302, 317],
    [298, 316, 308, 330, 302, 323, 295, 312, 337, 305, 320, 310, 293, 328, 315, 301,
     333, 306, 319, 297, 326, 311, 303, 336, 314, 291, 322, 309, 331, 300, 317, 325,
     304, 313, 296, 334, 307, 321, 299, 328, 312, 340, 302, 318, 294, 327, 309, 316,
     332, 301, 320, 306, 297, 324, 314, 335, 303, 311, 329, 295, 319, 307, 326, 313],
]

# title, then (color, kde x, kde heights, trace, trace unit) for each dimension
panels = [
    ('adstock_alpha', [(BLUE, adstock_x_blue, adstock_kde_blue, adstock_trace_blue, 0.01),
                       (ORANGE, adstock_x_orange, adstock_kde_orange, adstock_trace_orange, 0.01)]),
    ('gamma_control', [(BLUE, control_x_blue, control_kde_blue, control_trace_blue, 0.01),
                       (ORANGE, control_x_orange, control_kde_orange, control_trace_orange, 0.01),
                       (GREEN, control_x_green, control_kde_green, control_trace_green, 0.01)]),
    ('gamma_fourier', [(BLUE, fourier_x_blue, fourier_kde_blue, fourier_trace_blue, 0.001),
                       (ORANGE, fourier_x_orange, fourier_kde_orange, fourier_trace_orange, 0.001),
                       (GREEN, fourier_x_green, fourier_kde_green, fourier_trace_green, 0.001),
                       (PINK, fourier_x_pink, fourier_kde_pink, fourier_trace_pink, 0.001)]),
    ('intercept_contribution', [(BLUE, intercept_x, intercept_kde, intercept_trace, 0.001)]),
    ('saturation_beta', [(BLUE, beta_x_blue, beta_kde_blue, beta_trace_blue, 0.01),
                         (ORANGE, beta_x_orange, beta_kde_orange, beta_trace_orange, 0.01)]),
    ('saturation_lam', [(BLUE, lam_x_blue, lam_kde_blue, lam_trace_blue, 0.1),
                        (ORANGE, lam_x_orange, lam_kde_orange, lam_trace_orange, 0.1)]),
    ('y_sigma', [(BLUE, sigma_x, sigma_kde, sigma_trace, 0.0001)]),
]

W, H, DPI = 2423, 2023, 200
ROW_TOPS = [125, 401, 678, 953, 1231, 1507, 1784]
ROW_H = 181
COLS = [(54, 1105), (1297, 1106)]


def style(ax):
    ax.set_facecolor('#eeeeee')
    for s in ax.spines.values():
        s.set_visible(False)
    ax.grid(True, color='white', lw=0.9)
    ax.set_axisbelow(True)
    ax.tick_params(length=0, pad=4.5, labelsize=10, labelcolor=TEXT)


fig = plt.figure(figsize=(W / DPI, H / DPI), dpi=DPI)
fig.text(0.5, 1 - 58 / H, 'Model Trace', ha='center', va='baseline',
         fontsize=18, fontweight='bold', color=TEXT)

for row, (name, dims) in enumerate(panels):
    top = ROW_TOPS[row]
    axes = []
    for x0, w in COLS:
        axes.append(fig.add_axes([x0 / W, 1 - (top + ROW_H) / H, w / W, ROW_H / H]))
    ax_kde, ax_tr = axes

    for color, kx, kys, trace, unit in dims:
        for c, ky in enumerate(kys):
            ax_kde.plot(kx, np.array(ky, dtype=float), color=color, ls=STYLES[c], lw=1.2)
        for c, vals in enumerate(trace):
            vals = np.array(vals, dtype=float) * unit
            draws = np.linspace(0, 999, len(vals))
            ax_tr.plot(draws, vals, color=color, ls=STYLES[c], lw=1.0, alpha=0.4)

    for ax in axes:
        style(ax)
        ax.set_title(name, fontsize=10, color=TEXT)
    ax_kde.set_yticks([])
    ax_tr.set_xlim(0, 999)

fig.savefig('out.png', dpi=DPI)
